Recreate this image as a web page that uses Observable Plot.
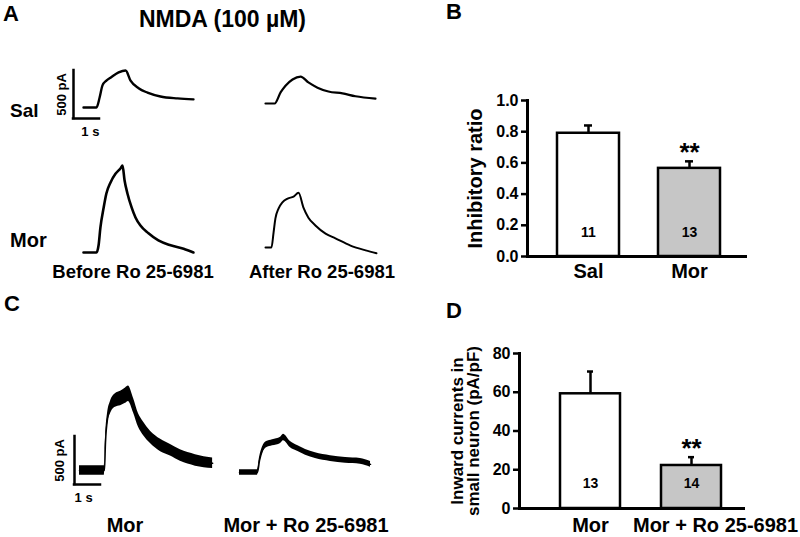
<!DOCTYPE html>
<html><head><meta charset="utf-8">
<script src="https://cdn.jsdelivr.net/npm/d3@7"></script>
<script src="https://cdn.jsdelivr.net/npm/@observablehq/plot@0.6"></script>
<style>
html,body{margin:0;padding:0;background:#fff;}
#fig{position:relative;width:800px;height:537px;overflow:hidden;background:#fff;font-family:"Liberation Sans",Arial,sans-serif;font-weight:bold;color:#000;}
#fig svg{position:absolute;overflow:visible;background:transparent;}
.lbl{position:absolute;white-space:nowrap;line-height:0.8;}
</style></head><body><div id="fig"></div>
<script>
// ---------- text ----------
const panelLetters = ["A", "B", "C", "D"];
const titleA = "NMDA (100 µM)";
const rowLabelsA = ["Sal", "Mor"];
const conditionLabelsA = ["Before Ro 25-6981", "After Ro 25-6981"];
const conditionLabelsC = ["Mor", "Mor + Ro 25-6981"];
const scaleBarLabels = ["1 s", "500 pA"];
const scaleBarValues = [1, 500]; // s, pA

// ---------- traces (time s, current pA, noise half-width pA) ----------
const salBeforeT = [0, 0.5, 0.62, 0.73, 0.88, 1.04, 1.35, 1.62, 1.81, 2.12, 2.46, 2.96, 3.62, 4.23];
const salBeforeI = [0, 0, 104, 230, 280, 310, 365, 385, 280, 200, 155, 115, 95, 85];
const salAfterT = [0, 0.35, 0.58, 0.77, 1.04, 1.35, 1.65, 2.0, 2.42, 2.96, 3.46, 4.23];
const salAfterI = [0, 0, 115, 185, 250, 280, 220, 165, 125, 105, 75, 50];
const morBeforeT = [0, 0.5, 0.58, 0.65, 0.77, 0.88, 1.04, 1.23, 1.42, 1.5, 1.58, 1.69, 1.85, 2.0, 2.19, 2.5, 2.88, 3.35, 3.85, 4.23];
const morBeforeI = [0, 0, 75, 260, 460, 615, 730, 820, 875, 905, 750, 615, 470, 365, 280, 200, 125, 75, 40, 0];
const morAfterT = [0, 0.23, 0.31, 0.38, 0.5, 0.65, 0.85, 1.08, 1.27, 1.46, 1.65, 1.92, 2.31, 2.69, 3.27, 3.85, 4.27];
const morAfterI = [0, 0, 155, 300, 405, 470, 510, 530, 570, 415, 310, 230, 145, 95, 20, -30, -60];
const cMorT = [0, 0.96, 1.0, 1.08, 1.19, 1.38, 1.58, 1.77, 1.88, 2.08, 2.27, 2.46, 2.73, 3.12, 3.5, 3.88, 4.46, 5.12];
const cMorI = [0, 0, 290, 540, 655, 730, 750, 780, 800, 675, 520, 435, 345, 260, 210, 155, 105, 75];
const cMorNoise = [50, 50, 55, 60, 65, 70, 75, 80, 80, 75, 70, 70, 65, 65, 60, 60, 60, 55];
const cMorRoT = [0, 0.69, 0.77, 0.88, 1.04, 1.27, 1.58, 1.69, 1.96, 2.23, 2.54, 2.92, 3.5, 4.08, 4.65, 5.04];
const cMorRoI = [0, 0, 125, 230, 290, 310, 335, 365, 290, 250, 210, 175, 145, 125, 115, 85];
const cMorRoNoise = [28, 28, 30, 32, 32, 32, 32, 34, 32, 30, 30, 30, 30, 30, 30, 30];

// ---------- bar charts ----------
const groupsB = ["Sal", "Mor"];
const ratioB = [0.79, 0.565];
const semB = [0.05, 0.045];
const nB = [11, 13];
const sigB = ["", "**"];
const yTicksB = [0, 0.2, 0.4, 0.6, 0.8, 1.0];
const yTitleB = "Inhibitory ratio";

const groupsD = ["Mor", "Mor + Ro 25-6981"];
const currentD = [59.2, 22.2];
const semD = [11.5, 4.3];
const nD = [13, 14];
const sigD = ["", "**"];
const yTicksD = [0, 20, 40, 60, 80];
const yTitleD = "Inward currents in\nsmall neuron (pA/pF)";

const barFills = ["#ffffff", "#c6c6c6"];

// ---------- layout helpers ----------
const fig = document.getElementById("fig");
const FONT = '"Liberation Sans", Arial, sans-serif';
function place(svg, left, top) {
  svg.style.left = left + "px";
  svg.style.top = top + "px";
  svg.style.background = "transparent";
  fig.appendChild(svg);
}
function label(text, x, baseline, size, anchor) {
  const d = document.createElement("div");
  d.className = "lbl";
  d.textContent = text;
  d.style.fontSize = size + "px";
  // line-height 0.8: baseline sits 0.7465em below the box top
  d.style.top = (baseline - 0.7465 * size) + "px";
  d.style.left = x + "px";
  if (anchor === "middle") d.style.transform = "translateX(-50%)";
  fig.appendChild(d);
}

const PX_PER_S = 26, PX_PER_PA = 48 / 500;
const T_MAX = 5.4, I_MIN = -150, I_MAX = 1000;
function trace(t, i, noise, left, baseline, sw) {
  const data = t.map((tt, k) => ({t: tt, i: i[k], n: noise ? noise[k] : 0}));
  const marks = [];
  if (noise) marks.push(Plot.areaY(data, {x: "t", y1: d => d.i - d.n, y2: d => d.i + d.n, fill: "#000", curve: "monotone-x"}));
  marks.push(Plot.line(data, {x: "t", y: "i", stroke: "#000", strokeWidth: sw, curve: "monotone-x", strokeLinejoin: "round", strokeLinecap: "round"}));
  const svg = Plot.plot({
    width: T_MAX * PX_PER_S, height: (I_MAX - I_MIN) * PX_PER_PA, margin: 0,
    x: {domain: [0, T_MAX], axis: null}, y: {domain: [I_MIN, I_MAX], axis: null},
    marks
  });
  place(svg, left, baseline - I_MAX * PX_PER_PA);
}
function scaleBar(cornerX, cornerY, sLabelAt, pALabelDx) {
  const [s, pA] = scaleBarValues;
  const ml = 26, mr = 4, mt = 2, mb = 22;
  const w = s * PX_PER_S, h = pA * PX_PER_PA;
  const svg = Plot.plot({
    width: w + ml + mr, height: h + mt + mb,
    marginLeft: ml, marginRight: mr, marginTop: mt, marginBottom: mb,
    style: {fontFamily: FONT},
    x: {domain: [0, s], axis: null}, y: {domain: [0, pA], axis: null},
    marks: [
      Plot.ruleX([0], {y1: 0, y2: pA, strokeWidth: 2.5, strokeLinecap: "square"}),
      Plot.ruleY([0], {x1: 0, x2: s, strokeWidth: 2.5, strokeLinecap: "square"}),
      Plot.text([scaleBarLabels[1]], {x: 0, y: pA / 2, rotate: -90, dx: pALabelDx, fontSize: 13, fontWeight: "bold"}),
      Plot.text([scaleBarLabels[0]], {x: sLabelAt, y: 0, dy: 13, fontSize: 13, fontWeight: "bold"})
    ]
  });
  place(svg, cornerX - ml, cornerY - h - mt);
}

// ---------- Panel A ----------
label(panelLetters[0], 3, 21, 22);
label(titleA, 222.5, 27, 23, "middle");
label(rowLabelsA[0], 10, 117, 19);
label(rowLabelsA[1], 10, 247, 20);
label(conditionLabelsA[0], 133, 279, 18.5, "middle");
label(conditionLabelsA[1], 322, 279, 18.5, "middle");
scaleBar(73, 118, 0.65, -12);
trace(salBeforeT, salBeforeI, null, 83, 107, 2.4);
trace(salAfterT, salAfterI, null, 265, 103, 2.2);
trace(morBeforeT, morBeforeI, null, 83, 252, 2.6);
trace(morAfterT, morAfterI, null, 265, 247, 2.0);

// ---------- Panel C ----------
label(panelLetters[2], 4, 311, 22);
label(conditionLabelsC[0], 125, 532, 20, "middle");
label(conditionLabelsC[1], 306, 532, 20, "middle");
scaleBar(74, 484, 0.35, -15);
trace(cMorT, cMorI, cMorNoise, 79, 470, 1.5);
trace(cMorRoT, cMorRoI, cMorRoNoise, 239, 472, 1.5);

// ---------- Panel B ----------
label(panelLetters[1], 446, 19, 22);
const barsB = groupsB.map((g, k) => ({group: g, value: ratioB[k], err: semB[k], n: nB[k], sig: sigB[k], fill: barFills[k]}));
const plotB = Plot.plot({
  width: 380, height: 236, marginLeft: 107, marginRight: 53, marginTop: 20, marginBottom: 60,
  style: {fontFamily: FONT},
  x: {type: "band", domain: groupsB, paddingInner: 0.386, paddingOuter: 0.282, align: 0.526, axis: null},
  y: {domain: [0, 1], axis: null},
  marks: [
    Plot.barY(barsB, {x: "group", y: "value", fill: "fill", stroke: "#000", strokeWidth: 2.5}),
    Plot.ruleX(barsB, {x: "group", y1: "value", y2: d => d.value + d.err, strokeWidth: 2.5}),
    Plot.tickY(barsB, {x: "group", y: d => d.value + d.err, insetLeft: 27, insetRight: 27, strokeWidth: 2.5}),
    Plot.ruleY([0], {strokeWidth: 3}),
    Plot.frame({anchor: "left", strokeWidth: 3}),
    Plot.axisY({ticks: yTicksB, tickFormat: d3.format(".1f"), tickSize: 6, tickPadding: 3, fontSize: 16, fontWeight: "bold", strokeWidth: 2.5, label: null}),
    Plot.text(barsB, {x: "group", text: "group", frameAnchor: "bottom", dy: 21, fontSize: 20, fontWeight: "bold"}),
    Plot.text(barsB, {x: "group", text: d => String(d.n), frameAnchor: "bottom", dy: -20, fontSize: 14, fontWeight: "bold"}),
    Plot.text(barsB.filter(d => d.sig), {x: "group", y: d => d.value + d.err, text: "sig", dy: -9, fontSize: 26, fontWeight: "bold"}),
    Plot.text([yTitleB], {frameAnchor: "left", textAnchor: "middle", rotate: -90, dx: -52, fontSize: 20, fontWeight: "bold"})
  ]
});
place(plotB, 420, 80);

// ---------- Panel D ----------
label(panelLetters[3], 446, 318, 22);
const barsD = groupsD.map((g, k) => ({group: g, value: currentD[k], err: semD[k], n: nD[k], sig: sigD[k], fill: barFills[k]}));
const plotD = Plot.plot({
  width: 380, height: 215, marginLeft: 99, marginRight: 55, marginTop: 20, marginBottom: 40,
  style: {fontFamily: FONT},
  x: {type: "band", domain: groupsD, paddingInner: 0.402, paddingOuter: 0.309, align: 0.635, axis: null},
  y: {domain: [0, 80], axis: null},
  marks: [
    Plot.barY(barsD, {x: "group", y: "value", fill: "fill", stroke: "#000", strokeWidth: 2.5}),
    Plot.ruleX(barsD, {x: "group", y1: "value", y2: d => d.value + d.err, strokeWidth: 2.5}),
    Plot.tickY(barsD, {x: "group", y: d => d.value + d.err, insetLeft: 27, insetRight: 27, strokeWidth: 2.5}),
    Plot.ruleY([0], {strokeWidth: 3}),
    Plot.frame({anchor: "left", strokeWidth: 3}),
    Plot.axisY({ticks: yTicksD, tickSize: 6, tickPadding: 3, fontSize: 16, fontWeight: "bold", strokeWidth: 2.5, label: null}),
    Plot.text(barsD.slice(0, 1), {x: "group", text: "group", frameAnchor: "bottom", dy: 23, fontSize: 20, fontWeight: "bold"}),
    Plot.text(barsD.slice(1), {x: "group", text: "group", frameAnchor: "bottom", dy: 23, dx: 24, fontSize: 20, fontWeight: "bold"}),
    Plot.text(barsD, {x: "group", text: d => String(d.n), frameAnchor: "bottom", dy: -21, fontSize: 14, fontWeight: "bold"}),
    Plot.text(barsD.filter(d => d.sig), {x: "group", y: d => d.value + d.err, text: "sig", dy: -8, fontSize: 26, fontWeight: "bold"}),
    Plot.text([yTitleD], {frameAnchor: "left", textAnchor: "middle", rotate: -90, dx: -53.5, fontSize: 17, lineHeight: 0.9, fontWeight: "bold"})
  ]
});
place(plotD, 420, 333);
</script></body></html>
